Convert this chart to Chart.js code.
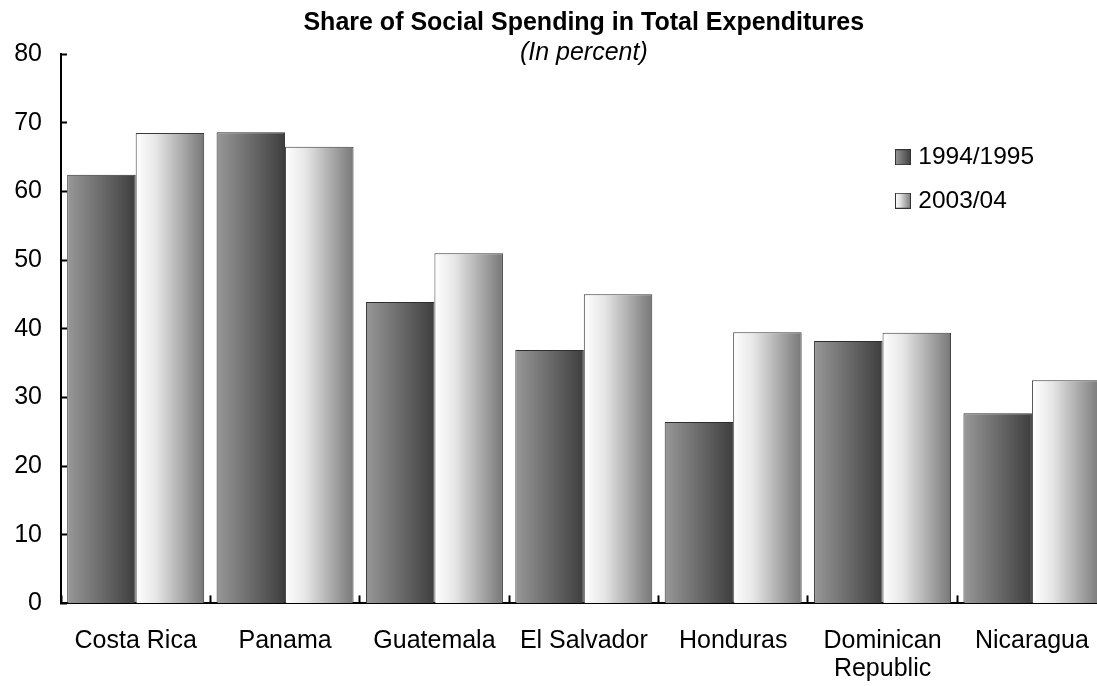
<!DOCTYPE html>
<html>
<head>
<meta charset="utf-8">
<script src="https://cdn.jsdelivr.net/npm/chart.js@4.4.1/dist/chart.umd.min.js"></script>
<style>
  html, body { margin: 0; padding: 0; background: #fff; overflow: hidden; width: 1097px; height: 686px; }
  #wrap { width: 1122px; height: 686px; position: relative; }
</style>
</head>
<body>
<div id="wrap"><canvas id="c"></canvas></div>
<script>
const categories = ['Costa Rica', 'Panama', 'Guatemala', 'El Salvador', 'Honduras', ['Dominican', 'Republic'], 'Nicaragua'];
const seriesNames = ['1994/1995', '2003/04'];
const values1994 = [62.4, 68.6, 43.9, 36.9, 26.4, 38.2, 27.7];
const values2003 = [68.5, 66.5, 51.0, 45.0, 39.5, 39.4, 32.5];
const yTicks = [0, 10, 20, 30, 40, 50, 60, 70, 80];

const CAT_PCT = 0.917;
const FONT = "'Liberation Sans', Arial, sans-serif";
Chart.defaults.font.family = FONT;
Chart.defaults.color = '#000';

const stopsDark = [[0, '#989898'], [1, '#3e3e3e']];
const stopsLight = [[0, '#ffffff'], [0.3, '#e6e6e6'], [1, '#777777']];

function makeGrad(ctx, x0, x1, stops) {
  const g = ctx.createLinearGradient(x0, 0, x1, 0);
  stops.forEach(s => g.addColorStop(s[0], s[1]));
  return g;
}

function barFill(c) {
  const chart = c.chart;
  const stops = c.datasetIndex === 0 ? stopsDark : stopsLight;
  const xs = chart.scales && chart.scales.x;
  if (!xs || c.dataIndex === undefined || !isFinite(xs.width) || xs.width <= 0) {
    return stops[0][1];
  }
  const cw = xs.width / categories.length;
  const w = cw * CAT_PCT / 2;
  const center = xs.getPixelForValue(c.dataIndex);
  const left = c.datasetIndex === 0 ? center - w : center;
  return makeGrad(chart.ctx, left, left + w, stops);
}

function legendSwatch(stops) {
  const cv = document.createElement('canvas');
  cv.width = 16; cv.height = 16;
  const x = cv.getContext('2d');
  x.fillStyle = makeGrad(x, 0, 16, stops);
  x.fillRect(0, 0, 16, 16);
  x.strokeStyle = '#333';
  x.lineWidth = 1;
  x.strokeRect(0.5, 0.5, 15, 15);
  return cv;
}
const swatches = [legendSwatch(stopsDark), legendSwatch(stopsLight)];

const legendMover = {
  id: 'legendMover',
  afterLayout(chart) {
    const lg = chart.legend;
    if (!lg) return;
    const pad = lg.options.labels.padding;
    lg.left = 900 - pad;
    lg.right = lg.left + 200;
    lg.top = 145 - pad;
    lg.bottom = lg.top + 300;
    lg.width = 200;
    lg.height = 300;
  }
};

new Chart(document.getElementById('c'), {
  type: 'bar',
  data: {
    labels: categories,
    datasets: [
      { label: seriesNames[0], data: values1994, backgroundColor: barFill, borderColor: '#2e2e2e', borderWidth: 1 },
      { label: seriesNames[1], data: values2003, backgroundColor: barFill, borderColor: '#3a3a3a', borderWidth: 1 }
    ]
  },
  options: {
    responsive: true,
    maintainAspectRatio: false,
    animation: false,
    categoryPercentage: CAT_PCT,
    barPercentage: 1,
    layout: { padding: { left: -10.8, right: 0, top: 0, bottom: -29.4 } },
    scales: {
      x: {
        grid: { offset: true, drawOnChartArea: false, drawTicks: true, tickLength: -8, tickWidth: 2, tickColor: '#000' },
        border: { display: true, color: '#000', width: 2 },
        ticks: { color: '#000', font: { size: 25, lineHeight: 1.12 }, padding: 32, maxRotation: 0, autoSkip: false }
      },
      y: {
        min: yTicks[0],
        max: yTicks[yTicks.length - 1],
        afterBuildTicks(scale) { scale.ticks = yTicks.map(v => ({ value: v })); },
        grid: { drawOnChartArea: false, drawTicks: true, tickLength: -6, tickWidth: 2, tickColor: '#000' },
        border: { display: true, color: '#000', width: 2 },
        ticks: { color: '#000', font: { size: 25 }, padding: 25 }
      }
    },
    plugins: {
      title: {
        display: true,
        text: 'Share of Social Spending in Total Expenditures',
        fullSize: false,
        color: '#000',
        font: { size: 25, weight: 'bold', lineHeight: 1.2 },
        padding: { top: 8.5, bottom: 0 }
      },
      subtitle: {
        display: true,
        text: '(In percent)',
        fullSize: false,
        color: '#000',
        font: { size: 25, style: 'italic', lineHeight: 1.2 },
        padding: { top: 0, bottom: -14.5 }
      },
      legend: {
        display: true,
        position: 'chartArea',
        align: 'start',
        labels: {
          usePointStyle: true,
          boxWidth: 6,
          padding: 19,
          color: '#000',
          font: { size: 24.5, lineHeight: 1.2 },
          generateLabels(chart) {
            return chart.data.datasets.map((ds, i) => ({
              text: ds.label,
              pointStyle: swatches[i],
              fillStyle: '#888',
              strokeStyle: '#333',
              lineWidth: 0,
              hidden: false,
              datasetIndex: i
            }));
          }
        }
      },
      tooltip: { enabled: false }
    }
  },
  plugins: [legendMover]
});
</script>
</body>
</html>
